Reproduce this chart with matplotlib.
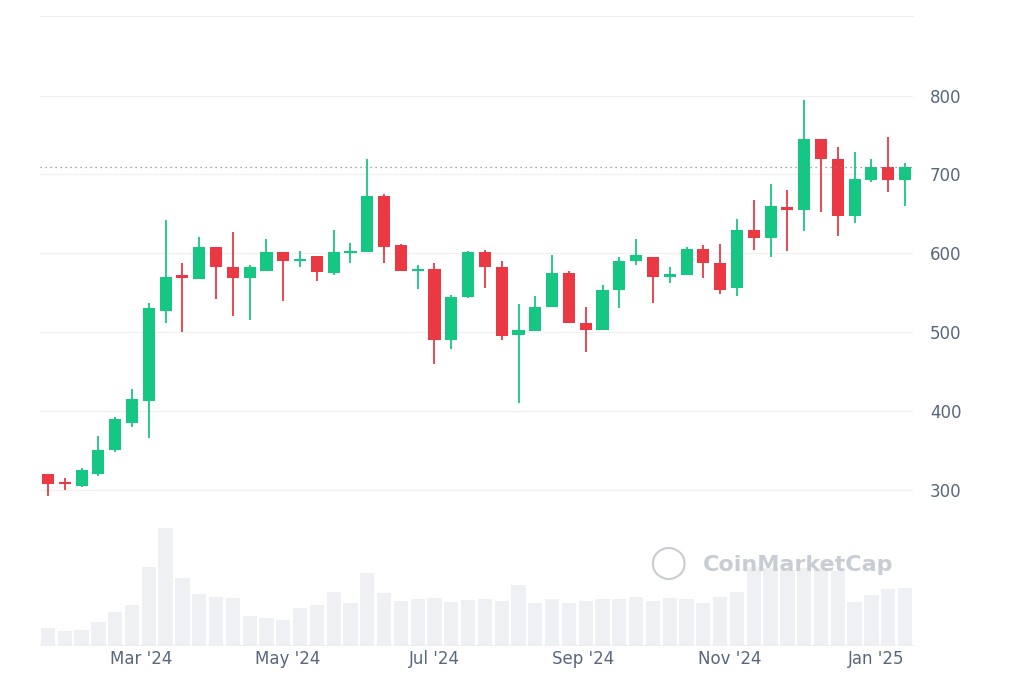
import matplotlib
matplotlib.use("Agg")
import matplotlib.pyplot as plt
import numpy as np
import pandas as pd

dates = pd.date_range("2024-01-22", periods=52, freq="7D")
opens = [320,310,305,320,350,385,413,527,572,567,608,583,568,578,601,592,596,575,600,602,673,610,577,580,490,545,602,582,496,502,532,575,512,503,553,590,595,570,573,605,588,556,629,619,659,655,745,720,647,693,710,693]
closes= [307,307,325,350,390,415,530,570,568,608,583,568,582,601,590,594,576,601,603,673,608,577,580,490,545,602,582,495,503,532,575,512,503,553,590,598,570,574,606,588,553,629,619,660,655,745,720,647,694,710,693,710]
highs = [320,315,328,368,392,428,537,642,588,620,608,627,585,618,602,603,597,630,613,720,675,612,585,588,547,603,604,590,535,546,598,577,532,560,595,618,595,582,608,610,612,643,668,688,680,795,745,735,728,720,747,715]
lows  = [292,300,303,318,348,380,365,512,500,567,542,520,515,578,540,582,565,572,588,602,588,577,555,460,478,543,556,490,410,502,532,512,475,503,530,585,537,562,573,568,548,546,604,595,603,628,652,622,638,690,678,660]
volumes=[21,17,18,28,40,48,94,140,80,61,58,57,35,33,30,45,48,64,51,87,63,53,55,56,52,54,55,53,72,50,55,51,53,55,55,58,53,56,55,50,58,64,94,92,90,92,92,89,52,60,67,68]
tick_labels = ["Mar '24","May '24","Jul '24","Sep '24","Nov '24","Jan '25"]
tick_dates = pd.to_datetime(["2024-03-01","2024-05-01","2024-07-01","2024-09-01","2024-11-01","2025-01-01"])
current_price = 709

fig = plt.figure(figsize=(10.24,6.83), dpi=100)
ax = fig.add_axes([0.039,0.0556,0.853,0.921])
x = np.arange(len(opens))
GREEN, RED = "#16c784", "#ea3943"

axv = ax.twinx()
axv.bar(x, volumes, width=0.85, color="#eef0f3", zorder=0)
axv.set_ylim(0, 755)
axv.axis("off")
ax.set_zorder(axv.get_zorder()+1); ax.patch.set_visible(False)

for i in range(len(x)):
    c = GREEN if closes[i] >= opens[i] else RED
    ax.vlines(x[i], lows[i], highs[i], color=c, lw=1.3)
    lo, hi = sorted([opens[i], closes[i]])
    ax.bar(x[i], max(hi-lo, 2.5), bottom=lo if hi-lo>=2.5 else lo-1.2, width=0.72, color=c)

ax.axhline(current_price, color="#888888", ls=(0,(1,3)), lw=0.9)
ax.set_ylim(103, 901)
ax.set_xlim(-0.48, 51.5)
ax.yaxis.tick_right()
ax.set_yticks([300,400,500,600,700,800])
ax.grid(axis="y", color="#f0f0f0", lw=1)
ax.set_axisbelow(True)
tpos = [(d - dates[0]).days/7 for d in tick_dates]
ax.set_xticks(tpos); ax.set_xticklabels(tick_labels)
ax.tick_params(length=0, labelsize=12, labelcolor="#58667e")
ax.tick_params(axis="y", pad=12)
for s in ax.spines.values():
    s.set_color("#eeeeee")
ax.spines["right"].set_visible(False)
ax.spines["left"].set_visible(False)
fig.text(0.634, 0.175, "◯", fontsize=24, color="#c8ccd3", ha="left", va="center")
fig.text(0.686, 0.173, "CoinMarketCap", fontsize=16, color="#c8ccd3", ha="left", va="center", fontweight="bold")
fig.savefig("out.png", dpi=100)
